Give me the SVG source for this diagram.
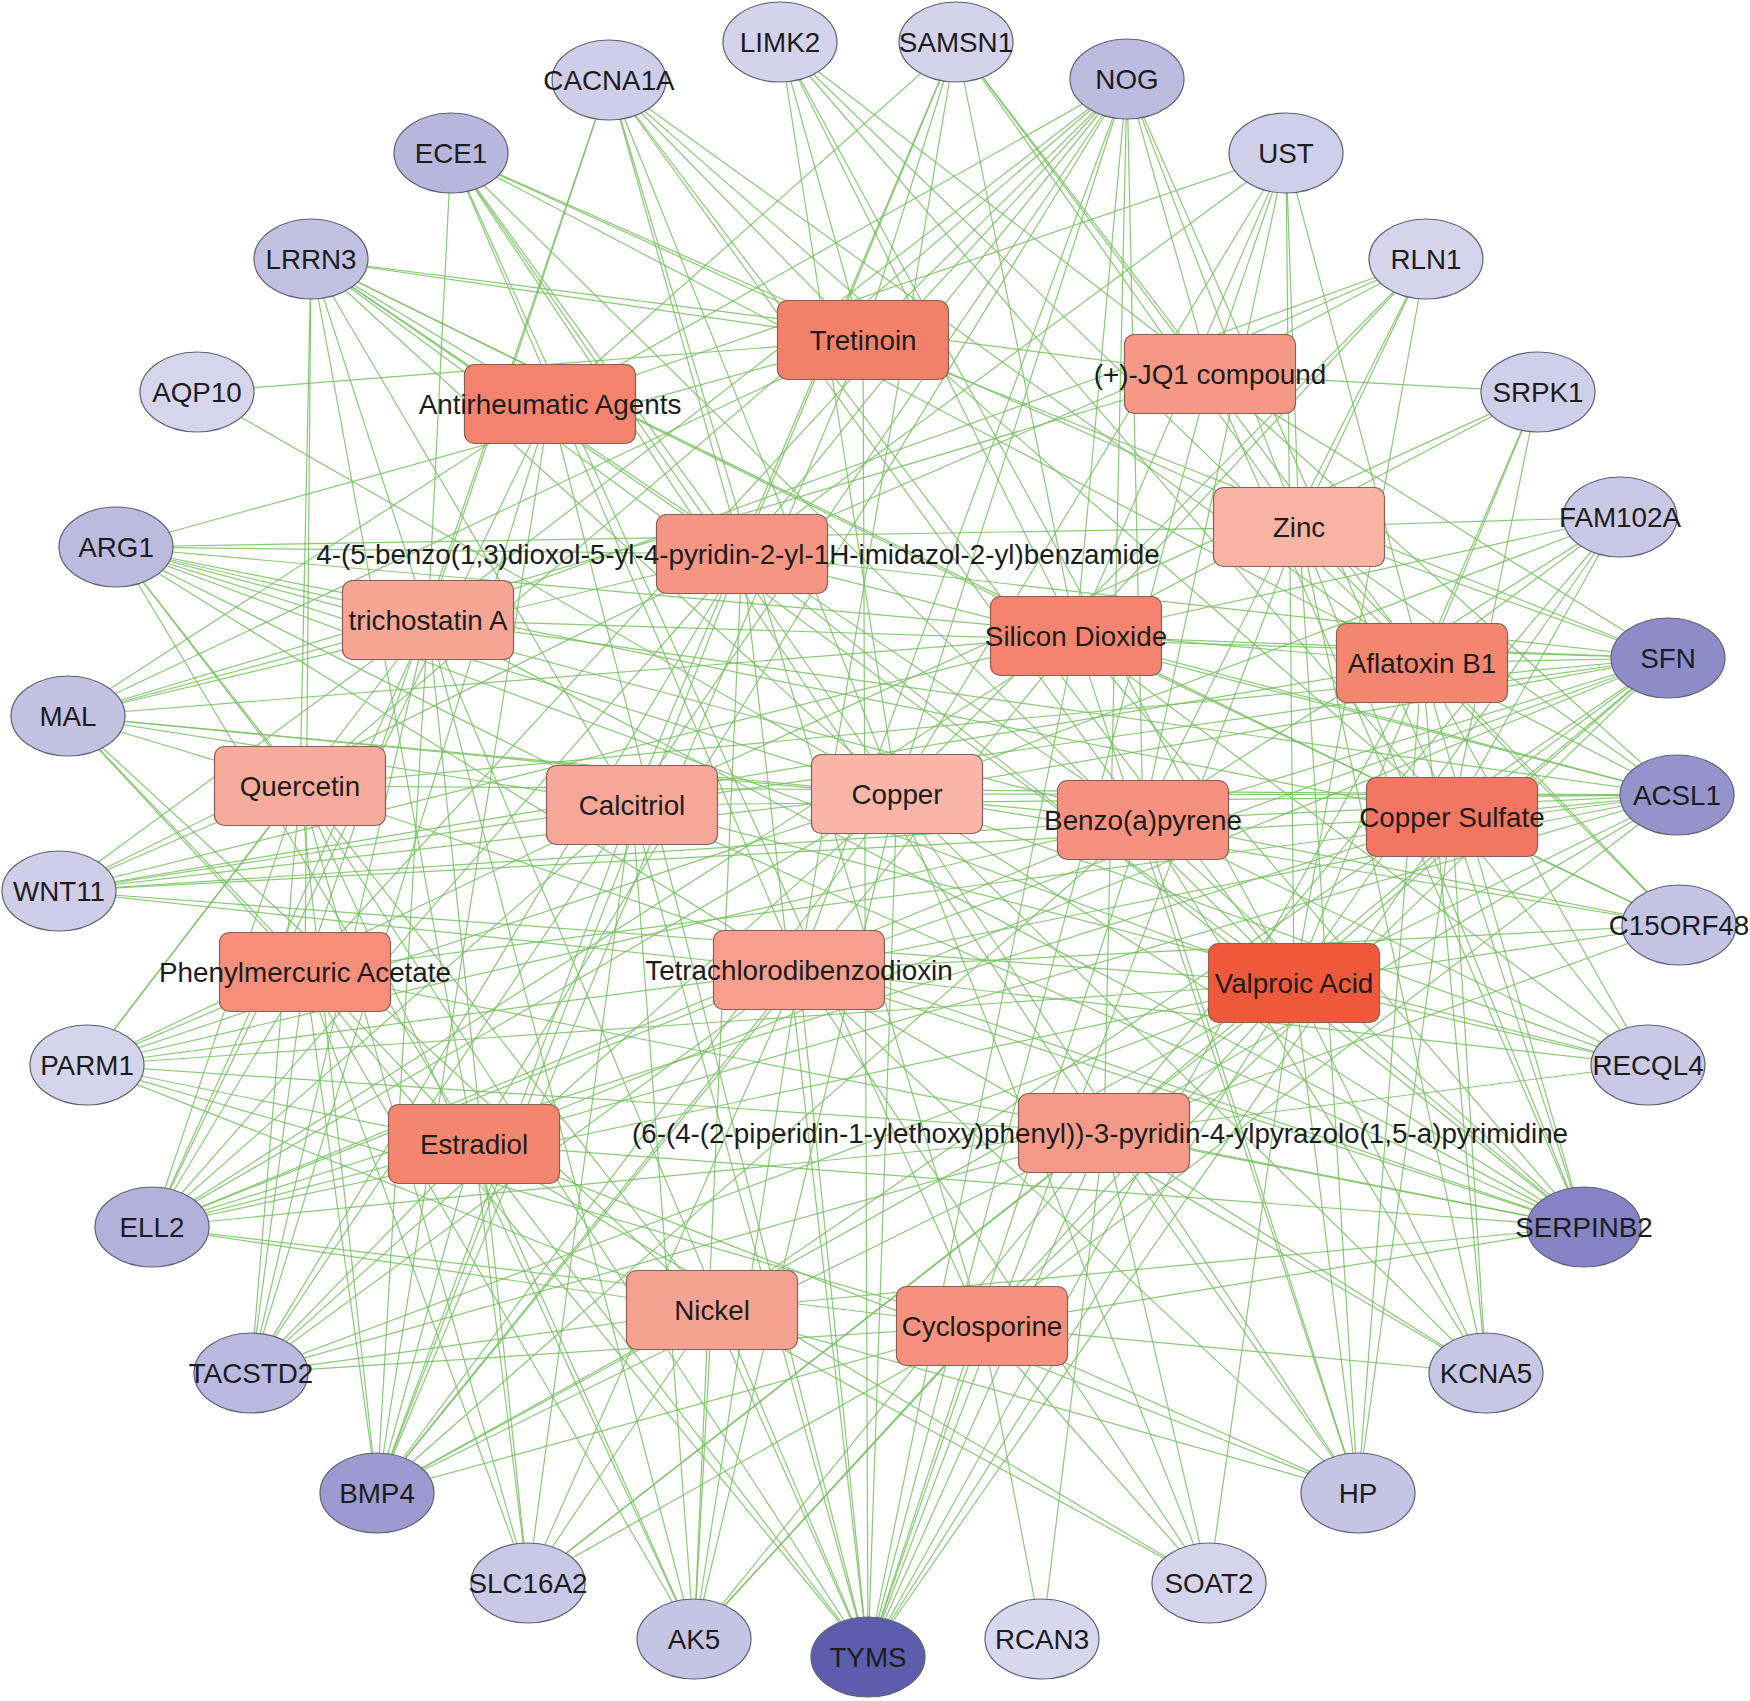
<svg xmlns="http://www.w3.org/2000/svg" width="1750" height="1701" viewBox="0 0 1750 1701">
<style>
.e{stroke:#74bf5e;stroke-width:1.2;fill:none;opacity:0.85}
.n{stroke:#5f5f70;stroke-width:1.2}
.d{stroke:#8a5e55;stroke-width:1.2}
text{font-family:"Liberation Sans",Arial,sans-serif;font-size:27.8px;fill:#1c1c1c;text-anchor:middle}
</style>
<rect width="1750" height="1701" fill="#ffffff"/>
<g id="connectors">
<path class="e" d="M780 42L897 794"/><path class="e" d="M780 42L1210 374"/><path class="e" d="M780 42L1452 817"/><path class="e" d="M780 42L1294 983"/><path class="e" d="M780 42L1076 636"/><path class="e" d="M780 42L1422 663"/><path class="e" d="M780 42L863 340"/>
<path class="e" d="M956 42L550 404"/><path class="e" d="M956 42L742 554"/><path class="e" d="M956 42L632 805"/><path class="e" d="M956 42L799 970"/><path class="e" d="M956 42L1210 374"/><path class="e" d="M956 42L1299 527"/><path class="e" d="M956 42L1422 663"/><path class="e" d="M956 42L1076 636"/><path class="e" d="M956 42L863 340"/>
<path class="e" d="M609 80L305 972"/><path class="e" d="M609 80L428 620"/><path class="e" d="M609 80L863 340"/><path class="e" d="M609 80L1422 663"/><path class="e" d="M609 80L742 554"/><path class="e" d="M609 80L897 794"/><path class="e" d="M609 80L1143 820"/><path class="e" d="M609 80L1294 983"/><path class="e" d="M609 80L1452 817"/><path class="e" d="M609 80L982 1326"/>
<path class="e" d="M1127 79L550 404"/><path class="e" d="M1127 79L428 620"/><path class="e" d="M1127 79L863 340"/><path class="e" d="M1127 79L742 554"/><path class="e" d="M1127 79L300 786"/><path class="e" d="M1127 79L632 805"/><path class="e" d="M1127 79L305 972"/><path class="e" d="M1127 79L799 970"/><path class="e" d="M1127 79L897 794"/><path class="e" d="M1127 79L1076 636"/><path class="e" d="M1127 79L1143 820"/><path class="e" d="M1127 79L1104 1133"/><path class="e" d="M1127 79L1210 374"/><path class="e" d="M1127 79L1299 527"/><path class="e" d="M1127 79L1452 817"/><path class="e" d="M1127 79L474 1144"/>
<path class="e" d="M451 153L863 340"/><path class="e" d="M451 153L1299 527"/><path class="e" d="M451 153L1422 663"/><path class="e" d="M451 153L742 554"/><path class="e" d="M451 153L897 794"/><path class="e" d="M451 153L1104 1133"/><path class="e" d="M451 153L428 620"/><path class="e" d="M451 153L982 1326"/><path class="e" d="M451 153L799 970"/><path class="e" d="M451 153L1294 983"/>
<path class="e" d="M1286 153L550 404"/><path class="e" d="M1286 153L1210 374"/><path class="e" d="M1286 153L1299 527"/><path class="e" d="M1286 153L1422 663"/><path class="e" d="M1286 153L1076 636"/><path class="e" d="M1286 153L1143 820"/><path class="e" d="M1286 153L742 554"/><path class="e" d="M1286 153L1294 983"/><path class="e" d="M1286 153L897 794"/>
<path class="e" d="M311 259L863 340"/><path class="e" d="M311 259L1210 374"/><path class="e" d="M311 259L1076 636"/><path class="e" d="M311 259L1452 817"/><path class="e" d="M311 259L742 554"/><path class="e" d="M311 259L1143 820"/><path class="e" d="M311 259L897 794"/><path class="e" d="M311 259L1294 983"/><path class="e" d="M311 259L300 786"/><path class="e" d="M311 259L305 972"/><path class="e" d="M311 259L428 620"/><path class="e" d="M311 259L474 1144"/><path class="e" d="M311 259L632 805"/><path class="e" d="M311 259L550 404"/>
<path class="e" d="M1426 259L428 620"/><path class="e" d="M1426 259L742 554"/><path class="e" d="M1426 259L1299 527"/><path class="e" d="M1426 259L1143 820"/><path class="e" d="M1426 259L1076 636"/><path class="e" d="M1426 259L1294 983"/><path class="e" d="M1426 259L897 794"/><path class="e" d="M1426 259L1210 374"/>
<path class="e" d="M197 392L863 340"/><path class="e" d="M197 392L897 794"/>
<path class="e" d="M1538 392L1210 374"/><path class="e" d="M1538 392L632 805"/><path class="e" d="M1538 392L1076 636"/><path class="e" d="M1538 392L1422 663"/><path class="e" d="M1538 392L1294 983"/><path class="e" d="M1538 392L1452 817"/>
<path class="e" d="M116 547L428 620"/><path class="e" d="M116 547L742 554"/><path class="e" d="M116 547L897 794"/><path class="e" d="M116 547L632 805"/><path class="e" d="M116 547L300 786"/><path class="e" d="M116 547L799 970"/><path class="e" d="M116 547L1143 820"/><path class="e" d="M116 547L1422 663"/><path class="e" d="M116 547L1452 817"/><path class="e" d="M116 547L474 1144"/><path class="e" d="M116 547L712 1310"/><path class="e" d="M116 547L1294 983"/><path class="e" d="M116 547L863 340"/><path class="e" d="M116 547L1299 527"/>
<path class="e" d="M1620 517L1299 527"/><path class="e" d="M1620 517L1076 636"/><path class="e" d="M1620 517L897 794"/><path class="e" d="M1620 517L1143 820"/><path class="e" d="M1620 517L1294 983"/><path class="e" d="M1620 517L1452 817"/><path class="e" d="M1620 517L1104 1133"/><path class="e" d="M1620 517L1422 663"/>
<path class="e" d="M1668 658L1422 663"/><path class="e" d="M1668 658L1452 817"/><path class="e" d="M1668 658L1076 636"/><path class="e" d="M1668 658L1299 527"/><path class="e" d="M1668 658L1143 820"/><path class="e" d="M1668 658L897 794"/><path class="e" d="M1668 658L1294 983"/><path class="e" d="M1668 658L428 620"/><path class="e" d="M1668 658L742 554"/><path class="e" d="M1668 658L632 805"/><path class="e" d="M1668 658L1210 374"/><path class="e" d="M1668 658L300 786"/><path class="e" d="M1668 658L799 970"/><path class="e" d="M1668 658L1104 1133"/><path class="e" d="M1668 658L863 340"/><path class="e" d="M1668 658L474 1144"/><path class="e" d="M1668 658L712 1310"/><path class="e" d="M1668 658L982 1326"/>
<path class="e" d="M68 716L428 620"/><path class="e" d="M68 716L863 340"/><path class="e" d="M68 716L550 404"/><path class="e" d="M68 716L1210 374"/><path class="e" d="M68 716L300 786"/><path class="e" d="M68 716L632 805"/><path class="e" d="M68 716L897 794"/><path class="e" d="M68 716L305 972"/><path class="e" d="M68 716L474 1144"/><path class="e" d="M68 716L712 1310"/><path class="e" d="M68 716L742 554"/><path class="e" d="M68 716L1076 636"/><path class="e" d="M68 716L1143 820"/>
<path class="e" d="M1677 795L1452 817"/><path class="e" d="M1677 795L1422 663"/><path class="e" d="M1677 795L1294 983"/><path class="e" d="M1677 795L1143 820"/><path class="e" d="M1677 795L897 794"/><path class="e" d="M1677 795L1076 636"/><path class="e" d="M1677 795L1299 527"/><path class="e" d="M1677 795L632 805"/><path class="e" d="M1677 795L799 970"/><path class="e" d="M1677 795L1104 1133"/><path class="e" d="M1677 795L300 786"/><path class="e" d="M1677 795L428 620"/><path class="e" d="M1677 795L742 554"/><path class="e" d="M1677 795L1210 374"/><path class="e" d="M1677 795L474 1144"/><path class="e" d="M1677 795L305 972"/><path class="e" d="M1677 795L982 1326"/>
<path class="e" d="M59 891L300 786"/><path class="e" d="M59 891L632 805"/><path class="e" d="M59 891L897 794"/><path class="e" d="M59 891L1143 820"/><path class="e" d="M59 891L1452 817"/><path class="e" d="M59 891L1294 983"/><path class="e" d="M59 891L799 970"/><path class="e" d="M59 891L428 620"/><path class="e" d="M59 891L742 554"/><path class="e" d="M59 891L1076 636"/><path class="e" d="M59 891L1422 663"/>
<path class="e" d="M1679 925L1452 817"/><path class="e" d="M1679 925L1294 983"/><path class="e" d="M1679 925L1422 663"/><path class="e" d="M1679 925L1143 820"/><path class="e" d="M1679 925L897 794"/><path class="e" d="M1679 925L1076 636"/><path class="e" d="M1679 925L799 970"/><path class="e" d="M1679 925L1104 1133"/><path class="e" d="M1679 925L1299 527"/>
<path class="e" d="M87 1065L305 972"/><path class="e" d="M87 1065L474 1144"/><path class="e" d="M87 1065L799 970"/><path class="e" d="M87 1065L632 805"/><path class="e" d="M87 1065L897 794"/><path class="e" d="M87 1065L300 786"/><path class="e" d="M87 1065L1143 820"/><path class="e" d="M87 1065L1294 983"/><path class="e" d="M87 1065L1104 1133"/><path class="e" d="M87 1065L712 1310"/><path class="e" d="M87 1065L982 1326"/><path class="e" d="M87 1065L428 620"/>
<path class="e" d="M1648 1065L1294 983"/><path class="e" d="M1648 1065L1452 817"/><path class="e" d="M1648 1065L1104 1133"/><path class="e" d="M1648 1065L1143 820"/><path class="e" d="M1648 1065L897 794"/><path class="e" d="M1648 1065L799 970"/><path class="e" d="M1648 1065L1422 663"/><path class="e" d="M1648 1065L632 805"/><path class="e" d="M1648 1065L1076 636"/>
<path class="e" d="M152 1227L474 1144"/><path class="e" d="M152 1227L305 972"/><path class="e" d="M152 1227L300 786"/><path class="e" d="M152 1227L428 620"/><path class="e" d="M152 1227L632 805"/><path class="e" d="M152 1227L799 970"/><path class="e" d="M152 1227L897 794"/><path class="e" d="M152 1227L742 554"/><path class="e" d="M152 1227L1143 820"/><path class="e" d="M152 1227L1294 983"/><path class="e" d="M152 1227L1104 1133"/><path class="e" d="M152 1227L712 1310"/><path class="e" d="M152 1227L982 1326"/><path class="e" d="M152 1227L550 404"/><path class="e" d="M152 1227L1076 636"/><path class="e" d="M152 1227L1452 817"/>
<path class="e" d="M1584 1227L1294 983"/><path class="e" d="M1584 1227L1452 817"/><path class="e" d="M1584 1227L1422 663"/><path class="e" d="M1584 1227L1104 1133"/><path class="e" d="M1584 1227L1143 820"/><path class="e" d="M1584 1227L799 970"/><path class="e" d="M1584 1227L897 794"/><path class="e" d="M1584 1227L632 805"/><path class="e" d="M1584 1227L474 1144"/><path class="e" d="M1584 1227L712 1310"/><path class="e" d="M1584 1227L982 1326"/><path class="e" d="M1584 1227L1076 636"/><path class="e" d="M1584 1227L1299 527"/><path class="e" d="M1584 1227L742 554"/><path class="e" d="M1584 1227L300 786"/><path class="e" d="M1584 1227L305 972"/><path class="e" d="M1584 1227L428 620"/><path class="e" d="M1584 1227L1210 374"/>
<path class="e" d="M251 1373L474 1144"/><path class="e" d="M251 1373L305 972"/><path class="e" d="M251 1373L300 786"/><path class="e" d="M251 1373L428 620"/><path class="e" d="M251 1373L632 805"/><path class="e" d="M251 1373L799 970"/><path class="e" d="M251 1373L712 1310"/><path class="e" d="M251 1373L742 554"/><path class="e" d="M251 1373L550 404"/><path class="e" d="M251 1373L897 794"/><path class="e" d="M251 1373L1104 1133"/><path class="e" d="M251 1373L982 1326"/><path class="e" d="M251 1373L1294 983"/>
<path class="e" d="M1486 1373L1294 983"/><path class="e" d="M1486 1373L1104 1133"/><path class="e" d="M1486 1373L1452 817"/><path class="e" d="M1486 1373L1422 663"/><path class="e" d="M1486 1373L1143 820"/><path class="e" d="M1486 1373L897 794"/><path class="e" d="M1486 1373L982 1326"/><path class="e" d="M1486 1373L799 970"/><path class="e" d="M1486 1373L1299 527"/>
<path class="e" d="M377 1493L474 1144"/><path class="e" d="M377 1493L305 972"/><path class="e" d="M377 1493L300 786"/><path class="e" d="M377 1493L428 620"/><path class="e" d="M377 1493L550 404"/><path class="e" d="M377 1493L632 805"/><path class="e" d="M377 1493L742 554"/><path class="e" d="M377 1493L799 970"/><path class="e" d="M377 1493L897 794"/><path class="e" d="M377 1493L712 1310"/><path class="e" d="M377 1493L982 1326"/><path class="e" d="M377 1493L1104 1133"/><path class="e" d="M377 1493L1294 983"/><path class="e" d="M377 1493L1143 820"/><path class="e" d="M377 1493L1076 636"/><path class="e" d="M377 1493L863 340"/>
<path class="e" d="M1358 1493L1294 983"/><path class="e" d="M1358 1493L1104 1133"/><path class="e" d="M1358 1493L982 1326"/><path class="e" d="M1358 1493L712 1310"/><path class="e" d="M1358 1493L1143 820"/><path class="e" d="M1358 1493L1452 817"/><path class="e" d="M1358 1493L1422 663"/><path class="e" d="M1358 1493L1299 527"/><path class="e" d="M1358 1493L1076 636"/><path class="e" d="M1358 1493L799 970"/><path class="e" d="M1358 1493L897 794"/><path class="e" d="M1358 1493L474 1144"/>
<path class="e" d="M528 1583L474 1144"/><path class="e" d="M528 1583L712 1310"/><path class="e" d="M528 1583L799 970"/><path class="e" d="M528 1583L632 805"/><path class="e" d="M528 1583L300 786"/><path class="e" d="M528 1583L305 972"/><path class="e" d="M528 1583L982 1326"/><path class="e" d="M528 1583L1104 1133"/><path class="e" d="M528 1583L1294 983"/><path class="e" d="M528 1583L428 620"/>
<path class="e" d="M1209 1583L982 1326"/><path class="e" d="M1209 1583L1104 1133"/><path class="e" d="M1209 1583L1294 983"/><path class="e" d="M1209 1583L712 1310"/><path class="e" d="M1209 1583L799 970"/><path class="e" d="M1209 1583L474 1144"/><path class="e" d="M1209 1583L897 794"/>
<path class="e" d="M694 1639L712 1310"/><path class="e" d="M694 1639L474 1144"/><path class="e" d="M694 1639L982 1326"/><path class="e" d="M694 1639L799 970"/><path class="e" d="M694 1639L632 805"/><path class="e" d="M694 1639L1104 1133"/><path class="e" d="M694 1639L300 786"/><path class="e" d="M694 1639L305 972"/><path class="e" d="M694 1639L1294 983"/><path class="e" d="M694 1639L742 554"/><path class="e" d="M694 1639L428 620"/><path class="e" d="M694 1639L897 794"/>
<path class="e" d="M868 1657L712 1310"/><path class="e" d="M868 1657L982 1326"/><path class="e" d="M868 1657L1104 1133"/><path class="e" d="M868 1657L1294 983"/><path class="e" d="M868 1657L799 970"/><path class="e" d="M868 1657L474 1144"/><path class="e" d="M868 1657L632 805"/><path class="e" d="M868 1657L897 794"/><path class="e" d="M868 1657L1143 820"/><path class="e" d="M868 1657L1076 636"/><path class="e" d="M868 1657L1452 817"/><path class="e" d="M868 1657L1422 663"/><path class="e" d="M868 1657L300 786"/><path class="e" d="M868 1657L305 972"/><path class="e" d="M868 1657L428 620"/><path class="e" d="M868 1657L742 554"/><path class="e" d="M868 1657L550 404"/><path class="e" d="M868 1657L863 340"/><path class="e" d="M868 1657L1210 374"/><path class="e" d="M868 1657L1299 527"/>
<path class="e" d="M1042 1639L982 1326"/><path class="e" d="M1042 1639L1104 1133"/>
</g>
<g id="genes">
<g id="gene-LIMK2"><ellipse class="n" cx="780" cy="42" rx="57" ry="40" fill="#d4d3eb"/><text x="780" y="52">LIMK2</text></g>
<g id="gene-SAMSN1"><ellipse class="n" cx="956" cy="42" rx="57" ry="40" fill="#d4d3eb"/><text x="956" y="52">SAMSN1</text></g>
<g id="gene-CACNA1A"><ellipse class="n" cx="609" cy="80" rx="57" ry="40" fill="#cfcde8"/><text x="609" y="90">CACNA1A</text></g>
<g id="gene-NOG"><ellipse class="n" cx="1127" cy="79" rx="57" ry="40" fill="#bdbbe0"/><text x="1127" y="89">NOG</text></g>
<g id="gene-ECE1"><ellipse class="n" cx="451" cy="153" rx="57" ry="40" fill="#b8b6dd"/><text x="451" y="163">ECE1</text></g>
<g id="gene-UST"><ellipse class="n" cx="1286" cy="153" rx="57" ry="40" fill="#d0cfe9"/><text x="1286" y="163">UST</text></g>
<g id="gene-LRRN3"><ellipse class="n" cx="311" cy="259" rx="57" ry="40" fill="#c3c1e2"/><text x="311" y="269">LRRN3</text></g>
<g id="gene-RLN1"><ellipse class="n" cx="1426" cy="259" rx="57" ry="40" fill="#d5d4ec"/><text x="1426" y="269">RLN1</text></g>
<g id="gene-AQP10"><ellipse class="n" cx="197" cy="392" rx="57" ry="40" fill="#d6d5ec"/><text x="197" y="402">AQP10</text></g>
<g id="gene-SRPK1"><ellipse class="n" cx="1538" cy="392" rx="57" ry="40" fill="#d0cfe9"/><text x="1538" y="402">SRPK1</text></g>
<g id="gene-ARG1"><ellipse class="n" cx="116" cy="547" rx="57" ry="40" fill="#bcbadf"/><text x="116" y="557">ARG1</text></g>
<g id="gene-FAM102A"><ellipse class="n" cx="1620" cy="517" rx="57" ry="40" fill="#cac8e6"/><text x="1620" y="527">FAM102A</text></g>
<g id="gene-SFN"><ellipse class="n" cx="1668" cy="658" rx="57" ry="40" fill="#8e8cc8"/><text x="1668" y="668">SFN</text></g>
<g id="gene-MAL"><ellipse class="n" cx="68" cy="716" rx="57" ry="40" fill="#c3c1e2"/><text x="68" y="726">MAL</text></g>
<g id="gene-ACSL1"><ellipse class="n" cx="1677" cy="795" rx="57" ry="40" fill="#9593cc"/><text x="1677" y="805">ACSL1</text></g>
<g id="gene-WNT11"><ellipse class="n" cx="59" cy="891" rx="57" ry="40" fill="#cfcde8"/><text x="59" y="901">WNT11</text></g>
<g id="gene-C15ORF48"><ellipse class="n" cx="1679" cy="925" rx="57" ry="40" fill="#c6c4e4"/><text x="1679" y="935">C15ORF48</text></g>
<g id="gene-PARM1"><ellipse class="n" cx="87" cy="1065" rx="57" ry="40" fill="#d5d4ec"/><text x="87" y="1075">PARM1</text></g>
<g id="gene-RECQL4"><ellipse class="n" cx="1648" cy="1065" rx="57" ry="40" fill="#cac8e6"/><text x="1648" y="1075">RECQL4</text></g>
<g id="gene-ELL2"><ellipse class="n" cx="152" cy="1227" rx="57" ry="40" fill="#b3b1db"/><text x="152" y="1237">ELL2</text></g>
<g id="gene-SERPINB2"><ellipse class="n" cx="1584" cy="1227" rx="57" ry="40" fill="#8583c3"/><text x="1584" y="1237">SERPINB2</text></g>
<g id="gene-TACSTD2"><ellipse class="n" cx="251" cy="1373" rx="57" ry="40" fill="#bbb9df"/><text x="251" y="1383">TACSTD2</text></g>
<g id="gene-KCNA5"><ellipse class="n" cx="1486" cy="1373" rx="57" ry="40" fill="#c8c6e5"/><text x="1486" y="1383">KCNA5</text></g>
<g id="gene-BMP4"><ellipse class="n" cx="377" cy="1493" rx="57" ry="40" fill="#9c9ad0"/><text x="377" y="1503">BMP4</text></g>
<g id="gene-HP"><ellipse class="n" cx="1358" cy="1493" rx="57" ry="40" fill="#c6c4e4"/><text x="1358" y="1503">HP</text></g>
<g id="gene-SLC16A2"><ellipse class="n" cx="528" cy="1583" rx="57" ry="40" fill="#cac8e6"/><text x="528" y="1593">SLC16A2</text></g>
<g id="gene-SOAT2"><ellipse class="n" cx="1209" cy="1583" rx="57" ry="40" fill="#d5d4ec"/><text x="1209" y="1593">SOAT2</text></g>
<g id="gene-AK5"><ellipse class="n" cx="694" cy="1639" rx="57" ry="40" fill="#c6c4e4"/><text x="694" y="1649">AK5</text></g>
<g id="gene-TYMS"><ellipse class="n" cx="868" cy="1657" rx="57" ry="40" fill="#5c5ead"/><text x="868" y="1667">TYMS</text></g>
<g id="gene-RCAN3"><ellipse class="n" cx="1042" cy="1639" rx="57" ry="40" fill="#d8d7ee"/><text x="1042" y="1649">RCAN3</text></g>
</g>
<g id="drugs">
<g id="drug-Tretinoin"><rect class="d" x="777.5" y="300.5" width="171" height="79" rx="10" fill="#f38069"/><text x="863" y="350">Tretinoin</text></g>
<g id="drug-AntirheumaticAgents"><rect class="d" x="464.5" y="364.5" width="171" height="79" rx="10" fill="#f4836e"/><text x="550" y="414">Antirheumatic Agents</text></g>
<g id="drug-JQ1"><rect class="d" x="1124.5" y="334.5" width="171" height="79" rx="10" fill="#f59886"/><text x="1210" y="384">(+)-JQ1 compound</text></g>
<g id="drug-Benzamide"><rect class="d" x="656.5" y="514.5" width="171" height="79" rx="10" fill="#f59684"/><text x="738" y="564">4-(5-benzo(1,3)dioxol-5-yl-4-pyridin-2-yl-1H-imidazol-2-yl)benzamide</text></g>
<g id="drug-Zinc"><rect class="d" x="1213.5" y="487.5" width="171" height="79" rx="10" fill="#f8b3a5"/><text x="1299" y="537">Zinc</text></g>
<g id="drug-TrichostatinA"><rect class="d" x="342.5" y="580.5" width="171" height="79" rx="10" fill="#f7a696"/><text x="428" y="630">trichostatin A</text></g>
<g id="drug-SiliconDioxide"><rect class="d" x="990.5" y="596.5" width="171" height="79" rx="10" fill="#f4846f"/><text x="1076" y="646">Silicon Dioxide</text></g>
<g id="drug-AflatoxinB1"><rect class="d" x="1336.5" y="623.5" width="171" height="79" rx="10" fill="#f4856f"/><text x="1422" y="673">Aflatoxin B1</text></g>
<g id="drug-Quercetin"><rect class="d" x="214.5" y="746.5" width="171" height="79" rx="10" fill="#f7ab9c"/><text x="300" y="796">Quercetin</text></g>
<g id="drug-Calcitriol"><rect class="d" x="546.5" y="765.5" width="171" height="79" rx="10" fill="#f7a797"/><text x="632" y="815">Calcitriol</text></g>
<g id="drug-Copper"><rect class="d" x="811.5" y="754.5" width="171" height="79" rx="10" fill="#f8b5a8"/><text x="897" y="804">Copper</text></g>
<g id="drug-Benzoapyrene"><rect class="d" x="1057.5" y="780.5" width="171" height="79" rx="10" fill="#f5917e"/><text x="1143" y="830">Benzo(a)pyrene</text></g>
<g id="drug-CopperSulfate"><rect class="d" x="1366.5" y="777.5" width="171" height="79" rx="10" fill="#f27661"/><text x="1452" y="827">Copper Sulfate</text></g>
<g id="drug-PhenylmercuricAcetate"><rect class="d" x="219.5" y="932.5" width="171" height="79" rx="10" fill="#f58e7b"/><text x="305" y="982">Phenylmercuric Acetate</text></g>
<g id="drug-Tetrachlorodibenzodioxin"><rect class="d" x="713.5" y="930.5" width="171" height="79" rx="10" fill="#f69f8e"/><text x="799" y="980">Tetrachlorodibenzodioxin</text></g>
<g id="drug-ValproicAcid"><rect class="d" x="1208.5" y="943.5" width="171" height="79" rx="10" fill="#f0583b"/><text x="1294" y="993">Valproic Acid</text></g>
<g id="drug-Estradiol"><rect class="d" x="388.5" y="1104.5" width="171" height="79" rx="10" fill="#f48670"/><text x="474" y="1154">Estradiol</text></g>
<g id="drug-Pyrazolopyrimidine"><rect class="d" x="1018.5" y="1093.5" width="171" height="79" rx="10" fill="#f59a88"/><text x="1100" y="1143">(6-(4-(2-piperidin-1-ylethoxy)phenyl))-3-pyridin-4-ylpyrazolo(1,5-a)pyrimidine</text></g>
<g id="drug-Nickel"><rect class="d" x="626.5" y="1270.5" width="171" height="79" rx="10" fill="#f6a292"/><text x="712" y="1320">Nickel</text></g>
<g id="drug-Cyclosporine"><rect class="d" x="896.5" y="1286.5" width="171" height="79" rx="10" fill="#f5917e"/><text x="982" y="1336">Cyclosporine</text></g>
</g>
</svg>
